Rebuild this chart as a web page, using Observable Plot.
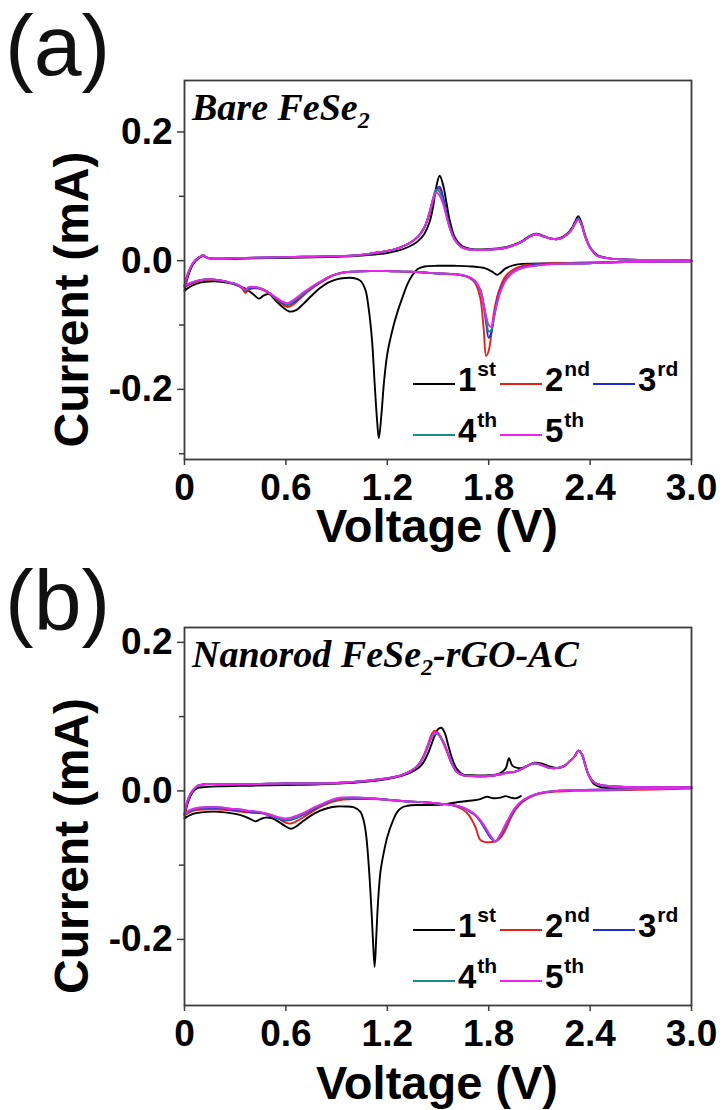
<!DOCTYPE html>
<html>
<head>
<meta charset="utf-8">
<script src="https://cdn.jsdelivr.net/npm/d3@7"></script>
<script src="https://cdn.jsdelivr.net/npm/@observablehq/plot@0.6"></script>
<style>
  html, body { margin: 0; padding: 0; background: #fff; }
  #chart { width: 723px; }
  #chart svg { display: block; }
</style>
</head>
<body>
<div id="chart"></div>
<script>
// Cyclic voltammetry, five cycles per electrode.
// Each cycle = cathodic sweep (high → low voltage) followed by anodic sweep (low → high).

const cycleNames = ["1st", "2nd", "3rd", "4th", "5th"];
const cycleColors = ["#000000", "#e8201c", "#1f2ad6", "#178c86", "#ee22ee"];

const xTicks = [0, 0.6, 1.2, 1.8, 2.4, 3.0];

// ---------- (a) Bare FeSe2 ----------
const a1CathV = [3.0, 2.6, 2.2, 2.0, 1.95, 1.9, 1.87, 1.85, 1.82, 1.78, 1.7, 1.6, 1.5, 1.42, 1.38, 1.35, 1.32, 1.29, 1.26, 1.23, 1.2, 1.18, 1.165, 1.15, 1.14, 1.125, 1.11, 1.09, 1.07, 1.04, 1.0, 0.95, 0.9, 0.85, 0.8, 0.75, 0.7, 0.66, 0.62, 0.58, 0.54, 0.5, 0.47, 0.44, 0.41, 0.37, 0.32, 0.25, 0.18, 0.12, 0.07, 0.03, 0.0];
const a1CathI = [-0.001, -0.002, -0.004, -0.005, -0.007, -0.012, -0.019, -0.022, -0.017, -0.012, -0.009, -0.008, -0.008, -0.009, -0.013, -0.022, -0.036, -0.057, -0.080, -0.108, -0.145, -0.190, -0.240, -0.276, -0.250, -0.190, -0.125, -0.075, -0.045, -0.031, -0.027, -0.027, -0.029, -0.034, -0.043, -0.055, -0.068, -0.077, -0.079, -0.072, -0.062, -0.052, -0.054, -0.059, -0.053, -0.045, -0.039, -0.034, -0.032, -0.033, -0.036, -0.041, -0.047];

const aCathV = [3.0, 2.6, 2.4, 2.2, 2.1, 2.0, 1.95, 1.9, 1.87, 1.85, 1.83, 1.815, 1.80, 1.785, 1.77, 1.75, 1.72, 1.68, 1.6, 1.5, 1.4, 1.3, 1.2, 1.1, 1.0, 0.95, 0.9, 0.85, 0.8, 0.75, 0.7, 0.65, 0.61, 0.57, 0.53, 0.49, 0.45, 0.41, 0.38, 0.36, 0.34, 0.31, 0.27, 0.22, 0.17, 0.12, 0.08, 0.04, 0.0];
const a2CathI = [-0.001, -0.002, -0.003, -0.004, -0.005, -0.008, -0.013, -0.024, -0.040, -0.056, -0.082, -0.115, -0.140, -0.148, -0.105, -0.058, -0.035, -0.026, -0.021, -0.020, -0.018, -0.017, -0.016, -0.016, -0.017, -0.018, -0.021, -0.027, -0.035, -0.044, -0.055, -0.067, -0.072, -0.066, -0.057, -0.049, -0.044, -0.043, -0.045, -0.050, -0.043, -0.038, -0.034, -0.031, -0.030, -0.030, -0.032, -0.036, -0.041];
const a3CathI = [-0.001, -0.002, -0.004, -0.005, -0.006, -0.010, -0.016, -0.029, -0.045, -0.062, -0.090, -0.112, -0.120, -0.097, -0.070, -0.046, -0.032, -0.025, -0.021, -0.020, -0.018, -0.017, -0.016, -0.016, -0.017, -0.018, -0.021, -0.026, -0.034, -0.042, -0.053, -0.064, -0.069, -0.064, -0.056, -0.048, -0.043, -0.042, -0.043, -0.047, -0.042, -0.037, -0.034, -0.031, -0.029, -0.029, -0.031, -0.035, -0.040];
const a4CathI = [-0.001, -0.002, -0.004, -0.005, -0.007, -0.011, -0.017, -0.030, -0.047, -0.064, -0.090, -0.108, -0.110, -0.090, -0.066, -0.045, -0.032, -0.025, -0.021, -0.020, -0.018, -0.017, -0.016, -0.016, -0.017, -0.018, -0.021, -0.026, -0.034, -0.042, -0.052, -0.062, -0.068, -0.063, -0.056, -0.048, -0.043, -0.041, -0.042, -0.046, -0.042, -0.037, -0.034, -0.031, -0.029, -0.029, -0.031, -0.034, -0.039];
const a5CathI = [-0.001, -0.002, -0.004, -0.005, -0.007, -0.011, -0.017, -0.031, -0.048, -0.066, -0.088, -0.103, -0.100, -0.086, -0.068, -0.045, -0.032, -0.025, -0.021, -0.020, -0.018, -0.017, -0.016, -0.016, -0.017, -0.018, -0.021, -0.026, -0.033, -0.041, -0.050, -0.060, -0.066, -0.062, -0.055, -0.048, -0.043, -0.041, -0.041, -0.045, -0.041, -0.037, -0.034, -0.031, -0.029, -0.029, -0.031, -0.034, -0.039];

const aAnoV = [0.0, 0.02, 0.05, 0.08, 0.11, 0.14, 0.2, 0.3, 0.5, 0.7, 0.9, 1.0, 1.1, 1.2, 1.27, 1.33, 1.38, 1.42, 1.45, 1.47, 1.49, 1.51, 1.53, 1.55, 1.57, 1.60, 1.64, 1.7, 1.8, 1.9, 1.95, 2.0, 2.04, 2.08, 2.12, 2.17, 2.22, 2.26, 2.29, 2.31, 2.33, 2.35, 2.37, 2.4, 2.44, 2.5, 2.6, 2.8, 3.0];
const a1AnoI = [-0.047, -0.025, -0.006, 0.003, 0.007, 0.004, 0.003, 0.003, 0.004, 0.005, 0.006, 0.007, 0.009, 0.012, 0.016, 0.022, 0.030, 0.042, 0.060, 0.082, 0.115, 0.132, 0.118, 0.090, 0.062, 0.036, 0.023, 0.018, 0.018, 0.021, 0.025, 0.031, 0.038, 0.042, 0.039, 0.034, 0.035, 0.041, 0.050, 0.060, 0.069, 0.058, 0.040, 0.021, 0.009, 0.004, 0.002, 0.001, 0.000];
const a2AnoI = [-0.041, -0.021, -0.004, 0.004, 0.008, 0.004, 0.003, 0.004, 0.005, 0.006, 0.007, 0.008, 0.011, 0.015, 0.020, 0.027, 0.037, 0.052, 0.072, 0.092, 0.108, 0.112, 0.097, 0.073, 0.052, 0.033, 0.021, 0.017, 0.017, 0.020, 0.024, 0.030, 0.037, 0.041, 0.038, 0.034, 0.034, 0.040, 0.048, 0.058, 0.065, 0.056, 0.038, 0.020, 0.008, 0.004, 0.002, 0.001, 0.000];
const a3AnoI = [-0.040, -0.020, -0.004, 0.004, 0.008, 0.004, 0.003, 0.004, 0.005, 0.006, 0.007, 0.008, 0.011, 0.015, 0.020, 0.027, 0.037, 0.052, 0.075, 0.095, 0.111, 0.115, 0.099, 0.074, 0.052, 0.033, 0.021, 0.017, 0.017, 0.020, 0.024, 0.030, 0.037, 0.041, 0.038, 0.034, 0.034, 0.040, 0.048, 0.058, 0.066, 0.056, 0.038, 0.020, 0.008, 0.004, 0.002, 0.001, 0.000];
const a4AnoI = [-0.039, -0.020, -0.004, 0.004, 0.008, 0.004, 0.003, 0.004, 0.005, 0.006, 0.007, 0.008, 0.011, 0.015, 0.020, 0.027, 0.037, 0.052, 0.075, 0.096, 0.110, 0.107, 0.092, 0.071, 0.051, 0.032, 0.021, 0.017, 0.017, 0.020, 0.024, 0.030, 0.037, 0.041, 0.038, 0.034, 0.034, 0.040, 0.048, 0.057, 0.065, 0.055, 0.038, 0.020, 0.008, 0.004, 0.002, 0.001, 0.000];
const a5AnoI = [-0.039, -0.020, -0.004, 0.004, 0.008, 0.004, 0.003, 0.004, 0.005, 0.006, 0.007, 0.008, 0.011, 0.015, 0.020, 0.027, 0.037, 0.052, 0.075, 0.094, 0.106, 0.101, 0.088, 0.069, 0.050, 0.032, 0.021, 0.017, 0.017, 0.020, 0.024, 0.030, 0.037, 0.041, 0.038, 0.034, 0.034, 0.040, 0.048, 0.057, 0.064, 0.055, 0.038, 0.020, 0.008, 0.004, 0.002, 0.001, 0.000];

// ---------- (b) Nanorod FeSe2-rGO-AC ----------
const b1CathV = [1.99, 1.96, 1.93, 1.9, 1.87, 1.83, 1.79, 1.75, 1.7, 1.62, 1.54, 1.45, 1.37, 1.32, 1.29, 1.26, 1.23, 1.2, 1.18, 1.16, 1.145, 1.135, 1.125, 1.115, 1.105, 1.09, 1.075, 1.06, 1.04, 1.0, 0.95, 0.9, 0.85, 0.8, 0.75, 0.7, 0.66, 0.63, 0.6, 0.56, 0.52, 0.48, 0.45, 0.42, 0.39, 0.35, 0.3, 0.24, 0.17, 0.1, 0.05, 0.0];
const b1CathI = [-0.007, -0.010, -0.009, -0.007, -0.009, -0.010, -0.008, -0.011, -0.013, -0.015, -0.018, -0.019, -0.019, -0.020, -0.022, -0.028, -0.042, -0.062, -0.082, -0.108, -0.150, -0.195, -0.237, -0.200, -0.155, -0.100, -0.060, -0.040, -0.028, -0.022, -0.021, -0.021, -0.023, -0.027, -0.033, -0.041, -0.048, -0.051, -0.048, -0.042, -0.037, -0.036, -0.038, -0.041, -0.038, -0.034, -0.031, -0.029, -0.028, -0.029, -0.031, -0.037];

const bCathV = [3.0, 2.6, 2.3, 2.2, 2.1, 2.05, 2.0, 1.96, 1.93, 1.9, 1.87, 1.84, 1.81, 1.78, 1.75, 1.72, 1.68, 1.64, 1.58, 1.5, 1.4, 1.3, 1.2, 1.1, 1.0, 0.93, 0.87, 0.82, 0.77, 0.72, 0.67, 0.63, 0.59, 0.55, 0.51, 0.47, 0.43, 0.38, 0.33, 0.27, 0.2, 0.13, 0.07, 0.03, 0.0];
const b2CathI = [0.003, 0.001, 0.000, -0.001, -0.004, -0.008, -0.015, -0.025, -0.037, -0.052, -0.063, -0.068, -0.069, -0.069, -0.066, -0.048, -0.032, -0.024, -0.019, -0.017, -0.015, -0.014, -0.012, -0.011, -0.011, -0.012, -0.015, -0.020, -0.026, -0.033, -0.040, -0.044, -0.042, -0.036, -0.032, -0.030, -0.030, -0.029, -0.028, -0.026, -0.025, -0.025, -0.026, -0.029, -0.033];
const b3CathI = [0.004, 0.002, 0.001, 0.000, -0.003, -0.007, -0.014, -0.023, -0.034, -0.047, -0.060, -0.068, -0.063, -0.052, -0.041, -0.033, -0.027, -0.022, -0.019, -0.017, -0.015, -0.014, -0.012, -0.010, -0.010, -0.010, -0.013, -0.018, -0.024, -0.030, -0.036, -0.039, -0.040, -0.037, -0.034, -0.031, -0.029, -0.028, -0.026, -0.025, -0.023, -0.023, -0.024, -0.027, -0.032];
const b4CathI = [0.004, 0.002, 0.001, 0.000, -0.003, -0.007, -0.013, -0.022, -0.033, -0.046, -0.059, -0.068, -0.061, -0.050, -0.040, -0.032, -0.026, -0.022, -0.019, -0.017, -0.015, -0.014, -0.012, -0.010, -0.009, -0.010, -0.013, -0.018, -0.023, -0.029, -0.035, -0.038, -0.039, -0.036, -0.033, -0.030, -0.028, -0.027, -0.025, -0.024, -0.022, -0.022, -0.024, -0.027, -0.032];
const b5CathI = [0.004, 0.002, 0.001, 0.000, -0.003, -0.007, -0.013, -0.022, -0.032, -0.045, -0.058, -0.068, -0.060, -0.049, -0.039, -0.032, -0.026, -0.022, -0.019, -0.017, -0.015, -0.014, -0.012, -0.010, -0.009, -0.009, -0.012, -0.017, -0.022, -0.028, -0.033, -0.036, -0.037, -0.035, -0.033, -0.030, -0.028, -0.027, -0.025, -0.024, -0.022, -0.022, -0.023, -0.026, -0.031];

const bAnoV = [0.0, 0.02, 0.05, 0.08, 0.12, 0.2, 0.4, 0.6, 0.8, 1.0, 1.1, 1.2, 1.28, 1.34, 1.38, 1.41, 1.44, 1.46, 1.48, 1.5, 1.52, 1.54, 1.56, 1.58, 1.61, 1.65, 1.7, 1.8, 1.86, 1.9, 1.92, 1.94, 1.97, 2.0, 2.04, 2.07, 2.11, 2.16, 2.21, 2.25, 2.28, 2.31, 2.33, 2.35, 2.37, 2.39, 2.42, 2.46, 2.55, 2.7, 2.85, 3.0];
const b1AnoI = [-0.037, -0.016, -0.001, 0.004, 0.005, 0.006, 0.007, 0.008, 0.009, 0.011, 0.013, 0.016, 0.020, 0.025, 0.030, 0.037, 0.050, 0.062, 0.074, 0.083, 0.085, 0.078, 0.062, 0.046, 0.030, 0.022, 0.021, 0.021, 0.023, 0.030, 0.044, 0.034, 0.031, 0.031, 0.035, 0.038, 0.037, 0.033, 0.031, 0.034, 0.040, 0.047, 0.054, 0.050, 0.036, 0.022, 0.010, 0.005, 0.003, 0.003, 0.003, 0.004];
const b2AnoI = [-0.033, -0.013, 0.001, 0.007, 0.009, 0.009, 0.009, 0.010, 0.010, 0.012, 0.014, 0.017, 0.021, 0.027, 0.034, 0.045, 0.062, 0.075, 0.081, 0.078, 0.070, 0.060, 0.048, 0.037, 0.026, 0.021, 0.020, 0.020, 0.022, 0.024, 0.025, 0.025, 0.027, 0.030, 0.035, 0.037, 0.035, 0.031, 0.031, 0.034, 0.040, 0.047, 0.054, 0.050, 0.036, 0.022, 0.012, 0.008, 0.006, 0.005, 0.005, 0.005];
const b3AnoI = [-0.032, -0.012, 0.001, 0.007, 0.009, 0.009, 0.009, 0.010, 0.010, 0.012, 0.014, 0.017, 0.021, 0.027, 0.034, 0.044, 0.060, 0.072, 0.077, 0.077, 0.071, 0.062, 0.050, 0.038, 0.026, 0.021, 0.020, 0.020, 0.022, 0.024, 0.025, 0.025, 0.027, 0.030, 0.035, 0.037, 0.035, 0.031, 0.031, 0.034, 0.040, 0.047, 0.054, 0.050, 0.036, 0.022, 0.012, 0.008, 0.006, 0.005, 0.005, 0.005];
const b4AnoI = [-0.032, -0.012, 0.001, 0.007, 0.009, 0.009, 0.009, 0.010, 0.010, 0.012, 0.014, 0.017, 0.021, 0.027, 0.034, 0.044, 0.060, 0.071, 0.076, 0.076, 0.070, 0.062, 0.050, 0.038, 0.026, 0.021, 0.020, 0.020, 0.022, 0.024, 0.025, 0.025, 0.027, 0.030, 0.035, 0.037, 0.035, 0.031, 0.031, 0.034, 0.040, 0.047, 0.054, 0.050, 0.036, 0.022, 0.012, 0.008, 0.006, 0.005, 0.005, 0.005];
const b5AnoI = [-0.031, -0.012, 0.001, 0.007, 0.009, 0.009, 0.009, 0.010, 0.010, 0.012, 0.014, 0.017, 0.021, 0.027, 0.034, 0.044, 0.060, 0.072, 0.078, 0.077, 0.071, 0.062, 0.050, 0.038, 0.026, 0.021, 0.020, 0.020, 0.022, 0.024, 0.025, 0.025, 0.027, 0.030, 0.035, 0.037, 0.035, 0.031, 0.031, 0.034, 0.040, 0.047, 0.054, 0.050, 0.036, 0.022, 0.012, 0.008, 0.006, 0.005, 0.005, 0.005];

// one closed loop per cycle: cathodic points, then anodic points
function loop(cycle, cathV, cathI, anoV, anoI) {
  const rows = cathV.map((v, k) => ({cycle, v, i: cathI[k]}));
  return rows.concat(anoV.map((v, k) => ({cycle, v, i: anoI[k]})));
}

const rowsA = [
  ...loop("1st", a1CathV, a1CathI, aAnoV, a1AnoI),
  ...loop("2nd", aCathV, a2CathI, aAnoV, a2AnoI),
  ...loop("3rd", aCathV, a3CathI, aAnoV, a3AnoI),
  ...loop("4th", aCathV, a4CathI, aAnoV, a4AnoI),
  ...loop("5th", aCathV, a5CathI, aAnoV, a5AnoI)
];
const rowsB = [
  ...loop("1st", b1CathV, b1CathI, bAnoV, b1AnoI),
  ...loop("2nd", bCathV, b2CathI, bAnoV, b2AnoI),
  ...loop("3rd", bCathV, b3CathI, bAnoV, b3AnoI),
  ...loop("4th", bCathV, b4CathI, bAnoV, b4AnoI),
  ...loop("5th", bCathV, b5CathI, bAnoV, b5AnoI)
];

const SANS = "'Liberation Sans', Arial, Helvetica, sans-serif";
const SERIF = "'Liberation Serif', 'Times New Roman', serif";
const AXIS = "#3c3c3c";

function panel({rows, yDomain, minorY, marginTop, marginBottom, letter, sampleParts, xTitleY}) {
  const W = 723, H = 555;
  const svg = Plot.plot({
    width: W, height: H,
    marginLeft: 184, marginRight: 32, marginTop, marginBottom,
    style: {fontFamily: SANS, fontWeight: "bold", color: "#000", background: "#fff", overflow: "visible"},
    x: {domain: [0, 3]},
    y: {domain: yDomain},
    color: {domain: cycleNames, range: cycleColors},
    marks: [
      Plot.line(rows, {x: "v", y: "i", z: "cycle", stroke: "cycle", strokeWidth: 1.9, curve: "catmull-rom"}),
      Plot.frame({stroke: AXIS, strokeWidth: 1.8}),
      Plot.axisY({ticks: [-0.2, 0, 0.2], tickSize: 7, tickPadding: 5, stroke: AXIS, strokeWidth: 1.5,
        tickFormat: d => d === 0 ? "0.0" : d.toFixed(1), fontSize: 37, fontWeight: "bold", label: null}),
      Plot.axisY({ticks: minorY, tickSize: 5, stroke: AXIS, strokeWidth: 1.5, text: null, label: null}),
      Plot.axisX({ticks: xTicks, tickSize: 6, tickPadding: 8, stroke: AXIS, strokeWidth: 1.5,
        tickFormat: d => d === 0 ? "0" : d.toFixed(1), fontSize: 37, fontWeight: "bold", label: null})
    ]
  });

  const s = d3.select(svg);
  const frameTop = marginTop, frameBottom = H - marginBottom;

  // panel letter
  s.append("text").attr("x", 5).attr("y", 75).attr("text-anchor", "start")
    .attr("font-family", SANS).attr("font-weight", "normal").attr("font-size", 86)
    .attr("fill", "#111").text(letter);

  // axis titles
  s.append("text").attr("transform", `translate(88,${(frameTop + frameBottom) / 2 + 30}) rotate(-90)`)
    .attr("text-anchor", "middle").attr("font-family", SANS).attr("font-weight", "bold")
    .attr("font-size", 48).attr("fill", "#000").text("Current (mA)");
  s.append("text").attr("x", 437).attr("y", xTitleY)
    .attr("text-anchor", "middle").attr("font-family", SANS).attr("font-weight", "bold")
    .attr("font-size", 47).attr("fill", "#000").text("Voltage (V)");

  // sample name (with subscript)
  const t = s.append("text").attr("x", 192).attr("y", frameTop + 40).attr("text-anchor", "start")
    .attr("font-family", SERIF).attr("font-weight", "bold").attr("font-style", "italic")
    .attr("font-size", 38).attr("fill", "#000");
  sampleParts.forEach(p => {
    if (p.sub) t.append("tspan").attr("font-size", 24).attr("dy", 8).text(p.text);
    else t.append("tspan").attr("dy", p.after ? -8 : 0).text(p.text);
  });

  // legend
  const items = [
    {k: 0, x: 413, row: 0}, {k: 1, x: 500, row: 0}, {k: 2, x: 593, row: 0},
    {k: 3, x: 413, row: 1}, {k: 4, x: 500, row: 1}
  ];
  const rowY = [frameBottom - 75, frameBottom - 24];
  const g = s.append("g");
  items.forEach(({k, x, row}) => {
    const y = rowY[row];
    g.append("line").attr("x1", x).attr("x2", x + 42).attr("y1", y).attr("y2", y)
      .attr("stroke", cycleColors[k]).attr("stroke-width", 2);
    const name = cycleNames[k];
    const tx = g.append("text").attr("x", x + 45).attr("y", y + 7).attr("text-anchor", "start")
      .attr("font-family", SANS).attr("font-weight", "bold").attr("font-size", 33).attr("fill", "#000");
    tx.append("tspan").text(name.slice(0, 1));
    tx.append("tspan").attr("font-size", 21).attr("dy", -15).attr("dx", 1).text(name.slice(1));
  });

  return svg;
}

const chart = document.getElementById("chart");
chart.appendChild(panel({
  rows: rowsA, yDomain: [-0.309, 0.28], minorY: [-0.3, -0.1, 0.1],
  marginTop: 80, marginBottom: 96, letter: "(a)", xTitleY: 542,
  sampleParts: [{text: "Bare FeSe"}, {text: "2", sub: true}]
}));
chart.appendChild(panel({
  rows: rowsB, yDomain: [-0.289, 0.22], minorY: [-0.1, 0.1],
  marginTop: 72, marginBottom: 105, letter: "(b)", xTitleY: 544,
  sampleParts: [{text: "Nanorod FeSe"}, {text: "2", sub: true}, {text: "-rGO-AC", after: true}]
}));
</script>
</body>
</html>
